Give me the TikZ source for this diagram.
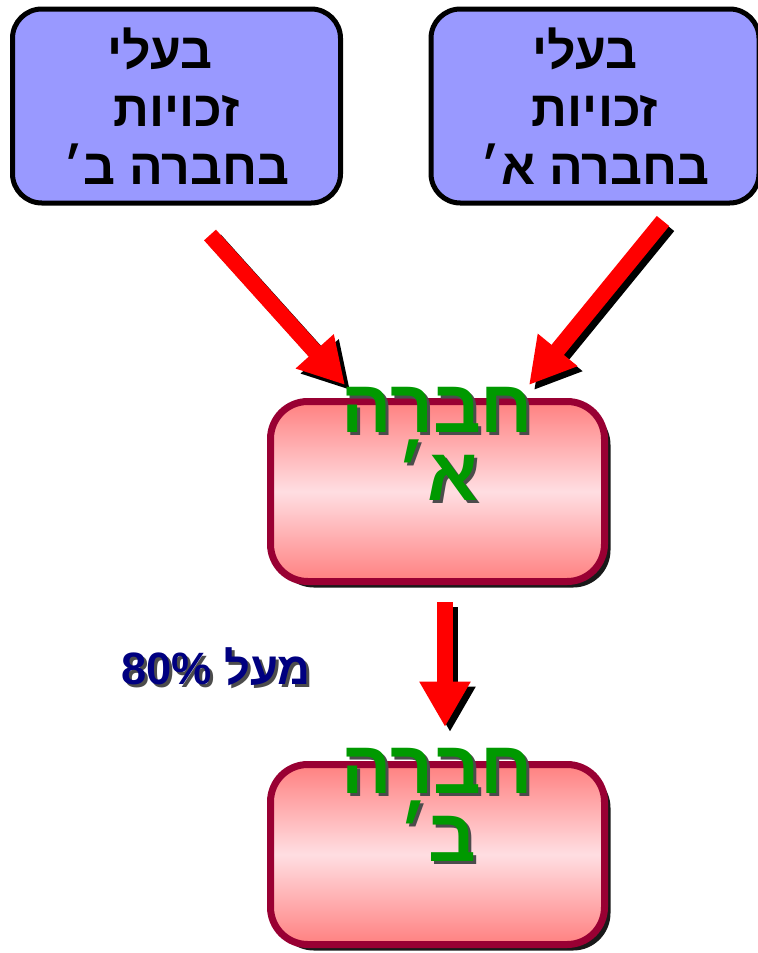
\documentclass[tikz,border=0pt]{standalone}
\usepackage{fontspec}
\usetikzlibrary{arrows.meta,shadows}
\TeXXeTstate=1
\newfontfamily\hebfont[Script=Hebrew]{Liberation Sans}
\definecolor{boxblue}{RGB}{153,153,255}
\definecolor{boxrim}{RGB}{153,0,51}
\definecolor{pinkdk}{RGB}{255,128,128}
\definecolor{pinklt}{RGB}{255,222,226}
\definecolor{namegreen}{RGB}{0,153,0}
\definecolor{navytext}{RGB}{0,0,128}
\newcommand{\castline}[1]{\leavevmode\rlap{\kern2.25pt\raisebox{-2.25pt}{\color{black!70}#1}}#1}
\begin{document}
\begin{tikzpicture}[x=0.75pt, y=-0.75pt,
    owners/.style={draw=black, line width=3.75pt, fill=boxblue, rounded corners=22pt,
        minimum width=246pt, minimum height=145.5pt, inner sep=0pt, align=center,
        font=\hebfont\bfseries\fontsize{37.5}{43.5}\selectfont},
    company/.style={draw=boxrim, line width=5.25pt, top color=pinkdk, bottom color=pinkdk,
        middle color=pinklt, rounded corners=28pt, minimum width=250.5pt, minimum height=135pt,
        drop shadow={fill=black, opacity=0.9, shadow xshift=4.5pt, shadow yshift=-4.5pt}},
    bigarrow/.style={draw=red, line width=12pt, -{Triangle[width=36pt,length=34pt]}},
    arrowshade/.style={bigarrow, draw=black, transform canvas={shift={(3.75pt,-3.75pt)}}},
    nametext/.style={text=namegreen, inner sep=0pt, anchor=north, align=center,
        font=\hebfont\bfseries\fontsize{56}{51}\selectfont},
    pcttext/.style={text=navytext, inner sep=0pt, font=\hebfont\bfseries\fontsize{34}{40}\selectfont}]
    \useasboundingbox (0, 0) rectangle (757, 953);

    \node[owners] (ownB) at (176.5, 106) {\beginR\kern25pt בעלי\endR\\\beginR זכויות\endR\\\beginR בחברה ב׳\endR};
    \node[owners] (ownA) at (595, 106) {\beginR\kern15pt בעלי\endR\\\beginR זכויות\endR\\\beginR בחברה א׳\endR};

    \coordinate (tailB) at (210, 235);
    \coordinate (tipB) at (345, 385);
    \coordinate (tailA) at (663, 221);
    \coordinate (tipA) at (529, 385);
    \coordinate (tailD) at (445, 602);
    \coordinate (tipD) at (445, 727);

    \draw[arrowshade] (tailB) -- (tipB);
    \draw[arrowshade] (tailA) -- (tipA);
    \draw[arrowshade] (tailD) -- (tipD);
    \draw[bigarrow] (tailB) -- (tipB);
    \draw[bigarrow] (tailA) -- (tipA);
    \draw[bigarrow] (tailD) -- (tipD);

    \node[company] (compA) at (437.5, 491.5) {};
    \node[company] (compB) at (437.5, 854.5) {};

    \node[nametext] (nameA) at (437.5, 387) {\castline{\beginR חברה\endR}\\\castline{\beginR א׳\endR}};
    \node[nametext] (nameB) at (437.5, 748) {\castline{\beginR חברה\endR}\\\castline{\beginR ב׳\endR}};

    \node[pcttext] (pct) at (216, 668) {\castline{\beginR מעל \beginL 80\%\endL\endR}};
\end{tikzpicture}
\end{document}
